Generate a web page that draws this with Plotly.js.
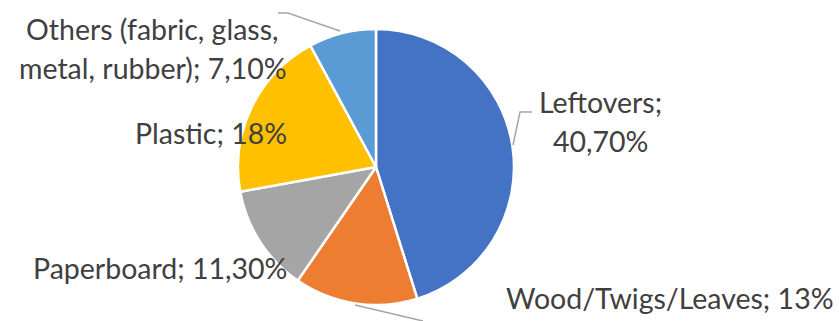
<!DOCTYPE html>
<html>
<head>
<meta charset="utf-8">
<script src="https://cdn.plot.ly/plotly-3.0.1.min.js"></script>
<style>html,body{margin:0;padding:0;background:#fff;}#chart{width:839px;height:321px;}</style>
</head>
<body>
<div id="chart"></div>
<script>
// Data
const categories = ["Leftovers", "Wood/Twigs/Leaves", "Paperboard", "Plastic", "Others (fabric, glass, metal, rubber)"];
const values = [40.7, 13, 11.3, 18, 7.1];
const valueLabels = ["40,70%", "13%", "11,30%", "18%", "7,10%"];
const colors = ["#4472C4", "#ED7D31", "#A5A5A5", "#FFC000", "#5B9BD5"];

const W = 839, H = 321;
const px = x => x / W;
const py = y => 1 - y / H;

const labelTexts = categories.map((c, i) => c + "; " + valueLabels[i]);

// label lines (split where the reference wraps)
const labelLines = [
  ["Leftovers;", valueLabels[0]],
  [labelTexts[1]],
  [labelTexts[2]],
  [labelTexts[3]],
  ["Others (fabric, glass,", "metal, rubber); " + valueLabels[4]]
];
const labelPos = [
  [[600, 102], [600, 141]],
  [[670, 298]],
  [[160, 268]],
  [[211, 133]],
  [[152, 29], [153, 68]]
];

const annotations = [];
labelLines.forEach((lines, i) => {
  lines.forEach((t, j) => {
    annotations.push({
      text: t, xref: "paper", yref: "paper",
      x: px(labelPos[i][j][0]), y: py(labelPos[i][j][1]),
      xanchor: "center", yanchor: "middle", showarrow: false,
      font: {family: "Lato, 'Open Sans', sans-serif", size: 28.5, color: "#404040"}
    });
  });
});

const leader = pts => ({
  type: "path", xref: "paper", yref: "paper",
  path: "M " + pts.map(p => px(p[0]) + "," + py(p[1])).join(" L "),
  line: {color: "#A6A6A6", width: 1.5}
});
const shapes = [
  leader([[513, 145], [520, 112], [532, 112]]),
  leader([[340, 31], [288, 13], [278, 13]]),
  leader([[355, 305], [423, 321]])
];

const trace = {
  type: "pie",
  labels: categories,
  values: values,
  sort: false,
  direction: "clockwise",
  rotation: 0,
  textinfo: "none",
  hoverinfo: "label+value",
  marker: {colors: colors, line: {color: "#FFFFFF", width: 2.5}},
  domain: {x: [px(376 - 138), px(376 + 138)], y: [py(305), py(29)]},
  showlegend: false
};

const layout = {
  width: W, height: H,
  margin: {l: 0, r: 0, t: 0, b: 0},
  paper_bgcolor: "#FFFFFF",
  showlegend: false,
  annotations: annotations,
  shapes: shapes
};

Plotly.newPlot("chart", [trace], layout, {displayModeBar: false, staticPlot: true});
</script>
</body>
</html>
